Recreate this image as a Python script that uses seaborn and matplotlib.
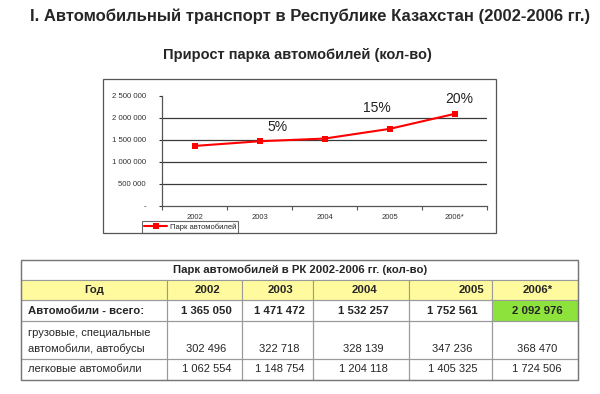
import matplotlib
matplotlib.use('Agg')
import matplotlib.pyplot as plt
import matplotlib.patches as mpatches
import seaborn as sns
import pandas as pd
from matplotlib.ticker import FixedLocator, FuncFormatter

# Data
years = ['2002', '2003', '2004', '2005', '2006*']
total = [1365050, 1471472, 1532257, 1752561, 2092976]
trucks = [302496, 322718, 328139, 347236, 368470]
cars = [1062554, 1148754, 1204118, 1405325, 1724506]
growth_labels = ['5%', '15%', '20%']
growth_pos = [(1.28, 1795000), (2.8, 2225000), (4.08, 2430000)]

W, H = 600, 394
def fx(px):
    return px / W
def fy(py):
    return 1 - py / H

sns.set_style('white')
plt.rcParams['font.family'] = ['Liberation Sans', 'DejaVu Sans']

fig = plt.figure(figsize=(6, 3.94), dpi=100)

# Titles
fig.text(fx(310), fy(16), 'I. Автомобильный транспорт в Республике Казахстан (2002-2006 гг.)',
         ha='center', va='center', fontsize=12.0, fontweight='bold')
fig.text(fx(297.5), fy(55), 'Прирост парка автомобилей (кол-во)',
         ha='center', va='center', fontsize=10.5, fontweight='bold')

# Chart frame
fig.patches.append(mpatches.Rectangle((fx(103), fy(233)), (496 - 103) / W, (233 - 79) / H,
                                      transform=fig.transFigure, fill=False,
                                      edgecolor='#555555', linewidth=0.9))

ax = fig.add_axes([fx(162), fy(206), (487 - 162) / W, (206 - 96) / H])
df = pd.DataFrame({'Год': years, 'Парк автомобилей': total})
sns.lineplot(data=df, x='Год', y='Парк автомобилей', ax=ax, color='#FF0000',
             marker='s', markersize=4, markeredgewidth=0, linewidth=1.5,
             label='Парк автомобилей')

ax.set_xlim(-0.5, 4.5)
ax.set_ylim(0, 2500000)
ax.set_xlabel('')
ax.set_ylabel('')
ax.yaxis.set_major_locator(FixedLocator([0, 500000, 1000000, 1500000, 2000000, 2500000]))
ax.yaxis.set_major_formatter(FuncFormatter(
    lambda v, p: '-' if v == 0 else f'{int(v):,}'.replace(',', ' ')))
for v in [500000, 1000000, 1500000, 2000000]:
    ax.axhline(v, color='#3a3a3a', linewidth=0.9, zorder=0)
ax.xaxis.set_minor_locator(FixedLocator([-0.5, 0.5, 1.5, 2.5, 3.5, 4.5]))
ax.tick_params(axis='x', which='major', length=0, labelsize=5.5, pad=6, colors='#333333')
ax.tick_params(axis='x', which='minor', length=3, width=0.8, color='#555555', direction='out', bottom=True)
ax.tick_params(axis='y', length=2.5, width=0.8, labelsize=5.6, pad=9, colors='#333333', direction='out', left=True)
for s in ['top', 'right']:
    ax.spines[s].set_visible(False)
for s in ['left', 'bottom']:
    ax.spines[s].set_color('#555555')
    ax.spines[s].set_linewidth(0.9)

for lab, (x, y) in zip(growth_labels, growth_pos):
    ax.text(x, y, lab, ha='center', va='center', fontsize=10, color='#222222')

leg = ax.legend(loc='lower left', bbox_to_anchor=(fx(142), fy(233)), bbox_transform=fig.transFigure,
                fontsize=5.5, frameon=True, fancybox=False, borderpad=0.3, handlelength=3,
                handletextpad=0.3, borderaxespad=0)
leg.get_frame().set_edgecolor('#444444')
leg.get_frame().set_linewidth(0.8)

# Table
cols = [21, 167, 242, 313, 409, 492, 578]
rows = [260, 280, 300, 321, 359, 380]
grid_c = '#9a9a9a'

def cell(x0, y0, x1, y1, color=None):
    fig.patches.append(mpatches.Rectangle((fx(x0), fy(y1)), (x1 - x0) / W, (y1 - y0) / H,
                                          transform=fig.transFigure,
                                          facecolor=color if color else 'none',
                                          edgecolor=grid_c, linewidth=0.8))

cell(cols[0], rows[0], cols[-1], rows[1])
for r in range(1, 5):
    for c in range(6):
        color = None
        if r == 1:
            color = '#FFFA9E'
        if r == 2 and c == 5:
            color = '#8EE23C'
        cell(cols[c], rows[r], cols[c + 1], rows[r + 1], color)
fig.patches.append(mpatches.Rectangle((fx(cols[0]), fy(rows[-1])), (cols[-1] - cols[0]) / W,
                                      (rows[-1] - rows[0]) / H, transform=fig.transFigure,
                                      fill=False, edgecolor='#777777', linewidth=1.0))

fs = 8.2
fig.text(fx(300), fy(270), 'Парк автомобилей в РК 2002-2006 гг. (кол-во)',
         ha='center', va='center', fontsize=fs, fontweight='bold')
fig.text(fx((cols[0] + cols[1]) / 2), fy(290), 'Год', ha='center', va='center',
         fontsize=fs, fontweight='bold')
for i, y in enumerate(years):
    if i == 3:
        fig.text(fx(cols[i + 2] - 8), fy(290), y, ha='right', va='center', fontsize=fs, fontweight='bold')
    else:
        fig.text(fx((cols[i + 1] + cols[i + 2]) / 2 + 3), fy(290), y, ha='center', va='center',
                 fontsize=fs, fontweight='bold')

def fmt(v):
    return f'{v:,}'.replace(',', ' ')

fig.text(fx(28), fy(310.5), 'Автомобили - всего:', ha='left', va='center', fontsize=fs, fontweight='bold')
fig.text(fx(28), fy(341), 'грузовые, специальные\nавтомобили, автобусы', ha='left', va='center',
         fontsize=fs - 0.2, linespacing=1.55)
fig.text(fx(28), fy(369.5), 'легковые автомобили', ha='left', va='center', fontsize=fs - 0.2)
for i in range(5):
    cx = (cols[i + 1] + cols[i + 2]) / 2 + 2
    fig.text(fx(cx), fy(310.5), fmt(total[i]), ha='center', va='center', fontsize=fs, fontweight='bold')
    fig.text(fx(cx), fy(349), fmt(trucks[i]), ha='center', va='center', fontsize=fs - 0.2)
    fig.text(fx(cx), fy(369.5), fmt(cars[i]), ha='center', va='center', fontsize=fs - 0.2)

fig.savefig('out.png', dpi=100)
